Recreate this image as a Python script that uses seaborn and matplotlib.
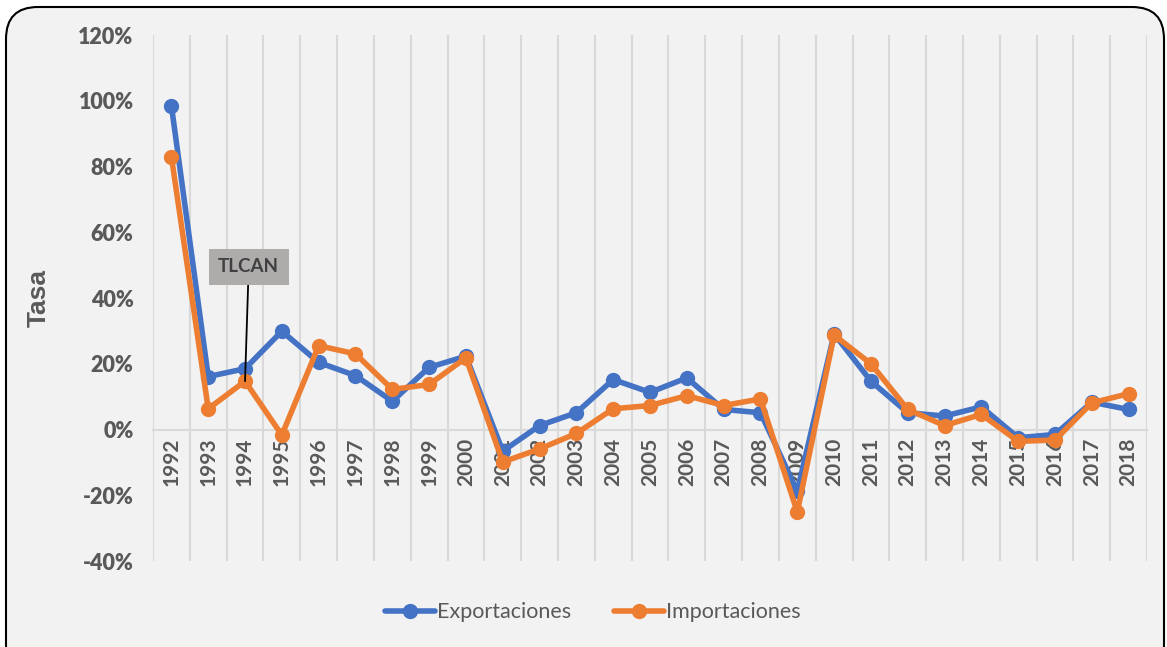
import pandas as pd
import numpy as np
import matplotlib.pyplot as plt
import matplotlib.patches as mpatches
from matplotlib.ticker import FuncFormatter, MultipleLocator
import seaborn as sns

# Datos (tasas en %)
years = [str(y) for y in range(1992, 2019)]
exportaciones = [98.5, 16.1, 18.5, 29.9, 20.4, 16.4, 8.6, 18.9, 22.3, -6.6,
                 1.2, 5.1, 15.2, 11.3, 15.7, 6.1, 5.1, -18.8, 29.1, 14.7,
                 5.1, 4.1, 6.9, -2.5, -1.5, 8.3, 6.1]
importaciones = [83.0, 6.3, 14.7, -1.7, 25.5, 23.0, 12.2, 13.7, 21.8, -9.9,
                 -5.9, -1.2, 6.3, 7.3, 10.3, 7.3, 9.3, -25.1, 28.7, 20.0,
                 6.1, 1.2, 4.6, -3.6, -3.2, 8.1, 10.9]

df = pd.DataFrame({'year': years, 'Exportaciones': exportaciones,
                   'Importaciones': importaciones})
long = df.melt(id_vars='year', var_name='serie', value_name='tasa')
long['pos'] = long['year'].map({y: i for i, y in enumerate(years)})

sns.set_style("white")
plt.rcParams['font.family'] = ['Lato', 'DejaVu Sans']

fig = plt.figure(figsize=(11.67, 6.47), dpi=100)
fig.patch.set_facecolor('white')
# marco redondeado
frame = mpatches.FancyBboxPatch((6, -30), 1158, 670,
                                boxstyle="round,pad=0,rounding_size=32",
                                transform=None, facecolor='#F2F2F2',
                                edgecolor='black', lw=1.5, zorder=-10)
fig.patches.append(frame)

ax = fig.add_axes([0.1311, 0.1329, 0.8518, 0.813])
ax.set_facecolor('none')

gris = '#595959'
sns.lineplot(data=long, x='pos', y='tasa', hue='serie',
             palette={'Exportaciones': '#4472C4', 'Importaciones': '#ED7D31'},
             marker='o', markersize=11, markeredgewidth=0, linewidth=4,
             ax=ax, legend=False, zorder=3)

# eje x sobre el 0 (antes de fijar las etiquetas, set_position las reinicia)
for s in ['top', 'right', 'left']:
    ax.spines[s].set_visible(False)
ax.spines['bottom'].set_position(('data', 0))
ax.spines['bottom'].set_color('#D9D9D9')
ax.spines['bottom'].set_linewidth(1.5)
ax.spines['bottom'].set_zorder(1)

ax.set_xlim(-0.5, len(years) - 0.5)
ax.set_ylim(-40, 120)
ax.yaxis.set_major_locator(MultipleLocator(20))
ax.yaxis.set_major_formatter(FuncFormatter(lambda v, p: f'{v:.0f}%'))
ax.set_xticks(range(len(years)))
ax.set_xticklabels(years, rotation=90, fontsize=15, fontweight='bold', color=gris)
ax.set_xticks(np.arange(-0.5, len(years)), minor=True)
ax.grid(True, which='minor', axis='x', color='#D9D9D9', lw=1.5)
ax.grid(False, which='major')
ax.tick_params(axis='both', which='both', length=0)
ax.tick_params(axis='x', pad=6)
ax.tick_params(axis='y', pad=14, labelsize=15.5, labelcolor=gris)
for t in ax.get_yticklabels():
    t.set_fontweight('heavy')

ax.set_xlabel('')
ax.set_ylabel('Tasa', fontsize=19, fontweight='bold', color=gris, labelpad=20,
              family=['Liberation Sans', 'DejaVu Sans'])

# anotacion TLCAN
ax.annotate('TLCAN', xy=(2, importaciones[2]), xytext=(2.1, 49.5),
            ha='center', va='center', fontsize=13.5, fontweight='bold', color='#404040',
            bbox=dict(boxstyle='square,pad=0.5', fc='#AEABAB', ec='none'),
            arrowprops=dict(arrowstyle='-', color='black', lw=1.3,
                            shrinkA=0, shrinkB=0), zorder=5)

handles = [plt.Line2D([], [], color=c, lw=4, marker='o', markersize=11,
                      markeredgewidth=0) for c in ['#4472C4', '#ED7D31']]
fig.legend(handles, ['Exportaciones', 'Importaciones'], loc='center',
           bbox_to_anchor=(0.508, 0.054), ncol=2, frameon=False,
           fontsize=15.5, labelcolor=gris, handlelength=2.3, handletextpad=0.1,
           columnspacing=2.0)

plt.savefig('out.png', dpi=100, facecolor='white')
